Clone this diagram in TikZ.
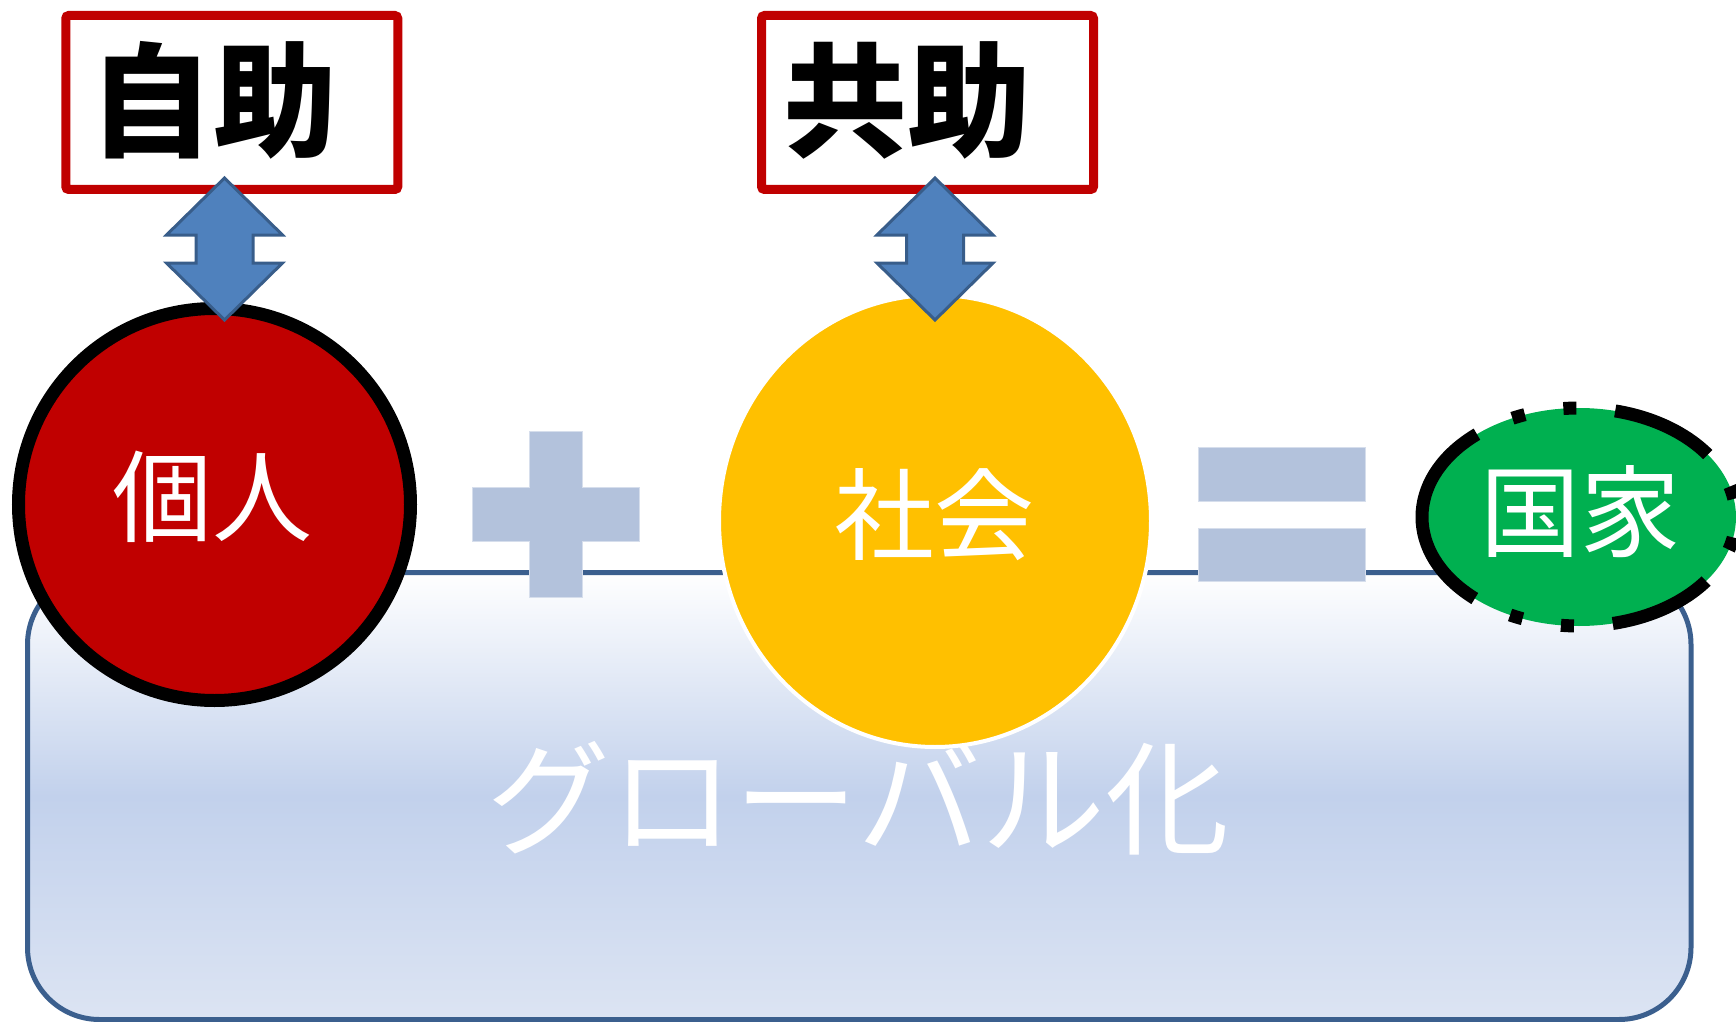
\documentclass[tikz,border=0pt]{standalone}
\usepackage{fontspec}
\newfontfamily\jp{Noto Sans CJK JP}
\definecolor{boxred}{HTML}{C00000}
\definecolor{arrowfill}{HTML}{4F81BD}
\definecolor{arrowline}{HTML}{385D8A}
\definecolor{rectline}{HTML}{3B5F8E}
\definecolor{signfill}{RGB}{179,194,220}
\definecolor{signline}{RGB}{214,222,236}
\definecolor{sunyellow}{HTML}{FFC000}
\definecolor{stategreen}{HTML}{00B050}
\definecolor{gradmid}{HTML}{C2D1EC}
\definecolor{gradbot}{HTML}{DCE4F3}
\usetikzlibrary{shapes.geometric}
\begin{document}
\begin{tikzpicture}[x=0.5pt,y=-0.5pt,
  titlebox/.style={draw=boxred, line width=4.5pt, fill=white, rounded corners=1.5pt,
    minimum width=166pt, minimum height=87pt, inner sep=0pt, outer sep=0pt},
  titletext/.style={font={\jp\bfseries\fontsize{62pt}{70pt}\selectfont}, text=black,
    inner sep=0pt, anchor=west},
  circletext/.style={font={\jp\fontsize{50pt}{60pt}\selectfont}, text=white, inner sep=0pt},
  globaltext/.style={font={\jp\fontsize{62pt}{70pt}\selectfont}, text=white, inner sep=0pt},
  blockarrow/.style={fill=arrowfill, draw=arrowline, line width=1.5pt, line join=miter},
  signshape/.style={fill=signfill, draw=signline, line width=0.5pt},
  globalbox/.style={rectangle, rounded corners=36pt, draw=rectline, line width=2.5pt,
    top color=white, bottom color=gradbot, middle color=gradmid,
    minimum width=831.75pt, minimum height=223.5pt, inner sep=0pt, outer sep=0pt},
  dashborder/.style={draw=black, line width=6.5pt,
    dash pattern=on 52pt off 19.5pt on 6.5pt off 19.5pt on 6.5pt off 19.5pt}
]
\useasboundingbox (0,0) rectangle (1736,1022);
\clip (0,0) rectangle (1736,1022);

% background rounded box
\node[globalbox] (global) at (859.25,796) {};
\node[globaltext] (globallabel) at (858,798) {グローバル化};

% red circle
\node[circle, draw=black, line width=6.5pt, fill=boxred, minimum size=196pt,
  inner sep=0pt, outer sep=0pt] (kojin) at (214.5,504.5) {};
\node[circletext] (kojinlabel) at (212.5,497) {個人};

% yellow ellipse
\node[ellipse, draw=white, line width=2pt, fill=sunyellow, minimum width=216pt,
  minimum height=226pt, inner sep=0pt, outer sep=0pt] (shakai) at (935,521) {};
\node[circletext] (shakailabel) at (934,515) {社会};

% green ellipse with long-dash-dot-dot border
\node[ellipse, fill=stategreen, minimum width=157pt, minimum height=109pt,
  inner sep=0pt, outer sep=0pt] (kokka) at (1579,517) {};
\draw[dashborder] (kokka.west) arc[start angle=180, end angle=-180,
  x radius=78.5pt, y radius=54.5pt];
\node[circletext] (kokkalabel) at (1580,512) {国家};

% plus sign
\path[signshape] (529,431) -- (582,431) -- (582,487) -- (639,487) -- (639,541)
  -- (582,541) -- (582,597) -- (529,597) -- (529,541) -- (472,541) -- (472,487)
  -- (529,487) -- cycle;
% equals sign
\path[signshape] (1198,447) rectangle (1365,501);
\path[signshape] (1198,528) rectangle (1365,581);

% title boxes
\node[titlebox] (jijo) at (231.75,102.5) {};
\node[titletext] (jijolabel) at (89,100) {自助};
\node[titlebox] (kyojo) at (927.5,102.5) {};
\node[titletext] (kyojolabel) at (783,100) {共助};

% double block arrows
\coordinate (a1) at (224.5,178);
\coordinate (a2) at (935,178);
\foreach \c in {a1,a2}{
  \draw[blockarrow] (\c) -- ++(58,57) -- ++(-29.5,0) -- ++(0,28) -- ++(29.5,0)
    -- ++(-58,57) -- ++(-58,-57) -- ++(29.5,0) -- ++(0,-28) -- ++(-29.5,0) -- cycle;
}
\end{tikzpicture}
\end{document}
